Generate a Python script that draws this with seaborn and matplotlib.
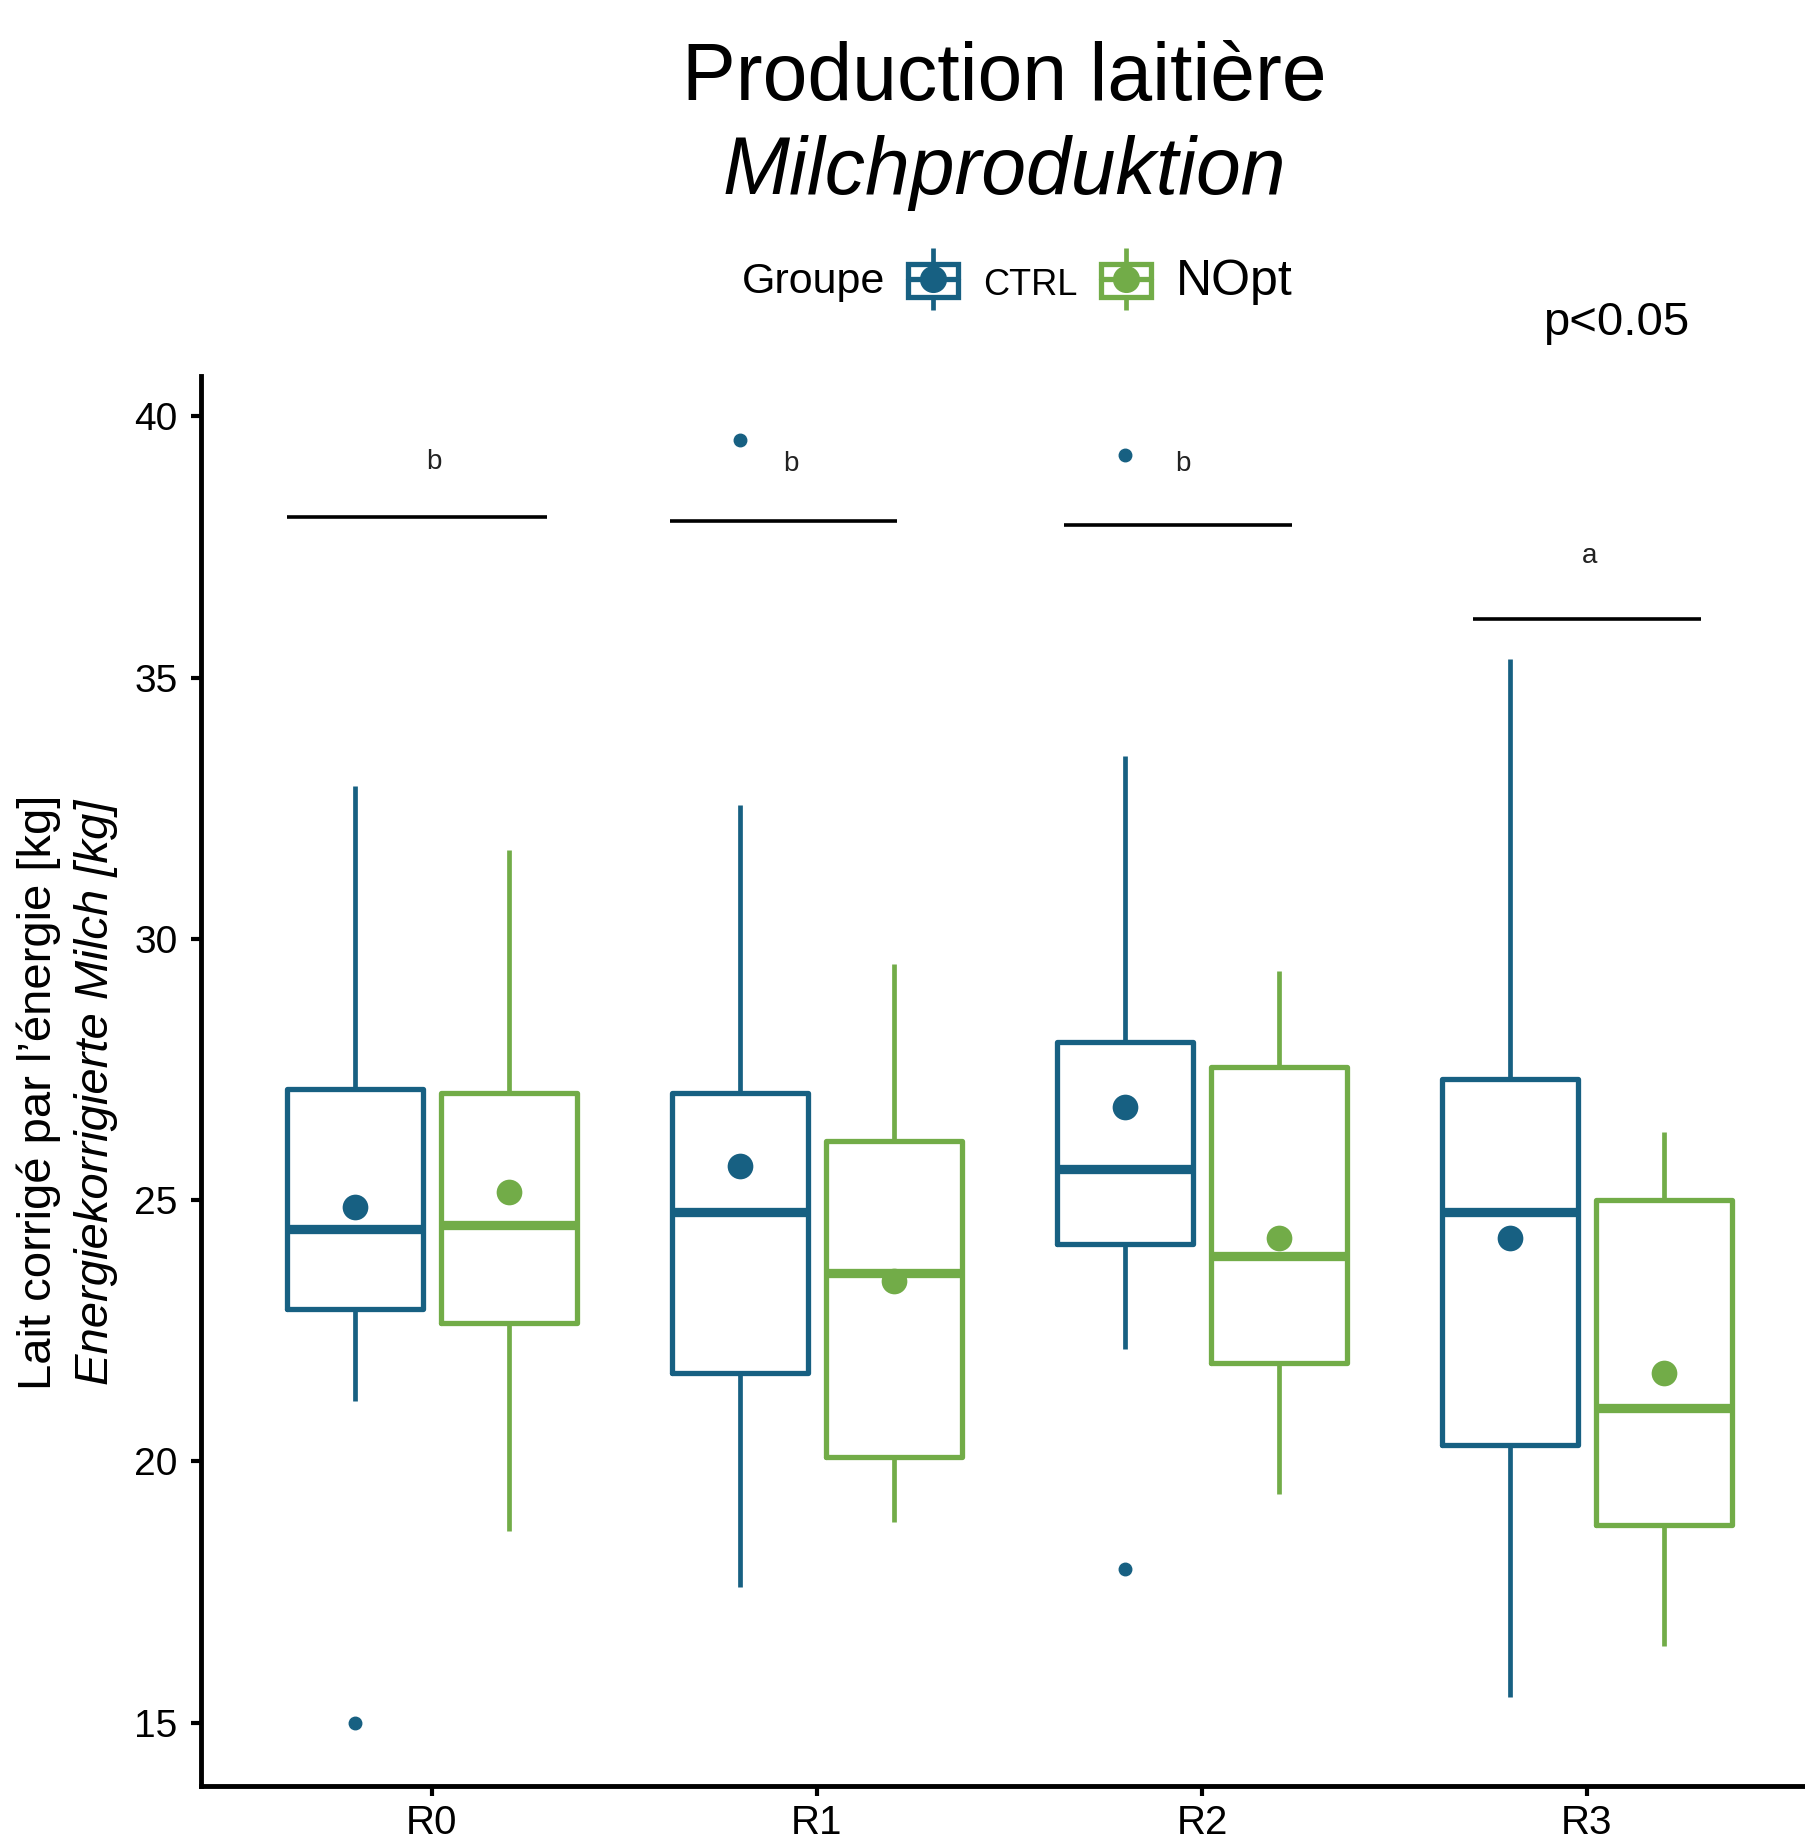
import numpy as np
import pandas as pd
import matplotlib
matplotlib.use("Agg")
import matplotlib.pyplot as plt
import seaborn as sns
from matplotlib.lines import Line2D
from matplotlib.patches import Patch

# -------------------------
# 1. Datos
# -------------------------
rondas = ["R0", "R1", "R2", "R3"]
grupos = ["CTRL", "NOpt"]
colores = {"CTRL": "#176082", "NOpt": "#72AC48"}

# resumen de cada caja: bigote inf., Q1, mediana, Q3, bigote sup.
ctrl_low = [21.16, 17.59, 22.15, 15.49]
ctrl_q1 = [22.91, 21.70, 24.17, 20.31]
ctrl_med = [24.44, 24.78, 25.59, 24.78]
ctrl_q3 = [27.12, 27.05, 28.02, 27.32]
ctrl_high = [32.92, 32.56, 33.50, 35.35]
ctrl_mean = [24.87, 25.66, 26.78, 24.28]
ctrl_outliers = [[15.0], [39.55], [39.26, 17.95], []]

nopt_low = [18.66, 18.84, 19.38, 16.46]
nopt_q1 = [22.64, 20.08, 21.88, 18.78]
nopt_med = [24.53, 23.61, 23.93, 21.03]
nopt_q3 = [27.05, 26.13, 27.54, 25.00]
nopt_high = [31.70, 29.52, 29.39, 26.31]
nopt_mean = [25.16, 23.45, 24.28, 21.70]
nopt_outliers = [[], [], [], []]

# letras de significancia y sus barras
letras = ["b", "b", "b", "a"]
letra_x = [0.006, 0.933, 1.95, 3.006]
letra_y = [39.12, 39.08, 39.08, 37.32]
barra_ini = [-0.376, 0.618, 1.642, 2.703]
barra_fin = [0.30, 1.208, 2.235, 3.297]
barra_y = [38.07, 38.0, 37.91, 36.11]

# -------------------------
# 2. Tabla larga para seaborn
# -------------------------
filas = []
resumen = {
    "CTRL": (ctrl_low, ctrl_q1, ctrl_med, ctrl_q3, ctrl_high, ctrl_outliers),
    "NOpt": (nopt_low, nopt_q1, nopt_med, nopt_q3, nopt_high, nopt_outliers),
}
for g, (lo, q1, me, q3, hi, out) in resumen.items():
    for i, r in enumerate(rondas):
        valores = [lo[i]] + [q1[i]] * 4 + [me[i]] * 4 + [q3[i]] * 4 + [hi[i]] + out[i]
        for v in valores:
            filas.append({"ronda": r, "grupo": g, "valor": v})
df = pd.DataFrame(filas)

medias = pd.DataFrame({
    "ronda": rondas * 2,
    "grupo": ["CTRL"] * 4 + ["NOpt"] * 4,
    "media": ctrl_mean + nopt_mean,
})

# -------------------------
# 3. Gráfico
# -------------------------
sns.set_theme(style="ticks")
plt.rcParams["font.family"] = ["Liberation Sans", "DejaVu Sans"]
plt.rcParams["text.color"] = "black"

fig = plt.figure(figsize=(18.06, 18.42), dpi=100)
ax = fig.add_axes([0.1113, 0.0304, 0.8953, 0.7655])

sns.boxplot(
    data=df, x="ronda", y="valor", hue="grupo",
    order=rondas, hue_order=grupos, palette=colores,
    fill=False, width=0.8, gap=0.12, linewidth=3.8, showcaps=False,
    whis=1.5, medianprops=dict(linewidth=6.7),
    whiskerprops=dict(linewidth=3.4),
    flierprops=dict(marker="o", markersize=9),
    legend=False, ax=ax,
)
for ln in ax.lines:
    if ln.get_marker() == "o":
        ln.set_markerfacecolor(ln.get_markeredgecolor())

sns.stripplot(
    data=medias, x="ronda", y="media", hue="grupo",
    order=rondas, hue_order=grupos, palette=colores,
    dodge=True, jitter=False, size=18.5, linewidth=0,
    legend=False, ax=ax, zorder=5,
)

for i in range(len(letras)):
    ax.plot([barra_ini[i], barra_fin[i]], [barra_y[i], barra_y[i]],
            color="black", lw=2.6, solid_capstyle="butt")
    ax.text(letra_x[i], letra_y[i], letras[i], ha="center", va="center",
            fontsize=20, color="#222222")

ax.set_xlim(-0.6, 3.6)
ax.set_ylim(13.79, 40.77)
ax.set_yticks([15, 20, 25, 30, 35, 40])
ax.set_xlabel("")
ax.set_ylabel("")
sns.despine(ax=ax)
for s in ["left", "bottom"]:
    ax.spines[s].set_linewidth(3.5)
    ax.spines[s].set_color("black")
ax.tick_params(axis="both", width=3, length=7, color="black")
ax.tick_params(axis="y", labelsize=28, pad=10, labelcolor="black")
ax.tick_params(axis="x", labelsize=29, pad=6, labelcolor="black")

# títulos
fig.text(0.556, 0.9457, "Production laitière", ha="center", va="baseline",
         fontsize=58, color="black")
fig.text(0.556, 0.8947, "Milchproduktion", ha="center", va="baseline",
         fontsize=58, style="italic", color="black")

# etiqueta del eje y (dos líneas)
fig.text(0.0216, 0.407, "Lait corrigé par l’énergie [kg]", rotation=90,
         ha="center", va="center", fontsize=34, color="black")
fig.text(0.0532, 0.407, "Energiekorrigierte Milch [kg]", rotation=90,
         ha="center", va="center", fontsize=34, style="italic", color="black")

fig.text(0.895, 0.818, "p<0.05", ha="center", va="baseline", fontsize=34, color="black")

# leyenda
fig.text(0.411, 0.847, "Groupe", ha="left", va="center", fontsize=31, color="black")
handles = []
for g in grupos:
    c = colores[g]
    handles.append((
        Line2D([], [], marker="|", markersize=45, mew=3.4, color=c, ls="none"),
        Patch(facecolor="white", edgecolor=c, linewidth=3.8),
        Line2D([], [], color=c, lw=3.8),
        Line2D([], [], marker="o", markersize=18.5, color=c, ls="none"),
    ))
leg = fig.legend(handles, grupos, loc="center left", bbox_to_anchor=(0.503, 0.847),
                 ncol=2, frameon=False, fontsize=30, handlelength=1.2,
                 handleheight=0.85, handletextpad=0.6, columnspacing=0.55,
                 borderpad=0, borderaxespad=0)
leg.get_texts()[0].set_fontsize(26)
leg.get_texts()[1].set_fontsize(36)
for t in leg.get_texts():
    t.set_color("black")

fig.savefig("out.png", dpi=100)
